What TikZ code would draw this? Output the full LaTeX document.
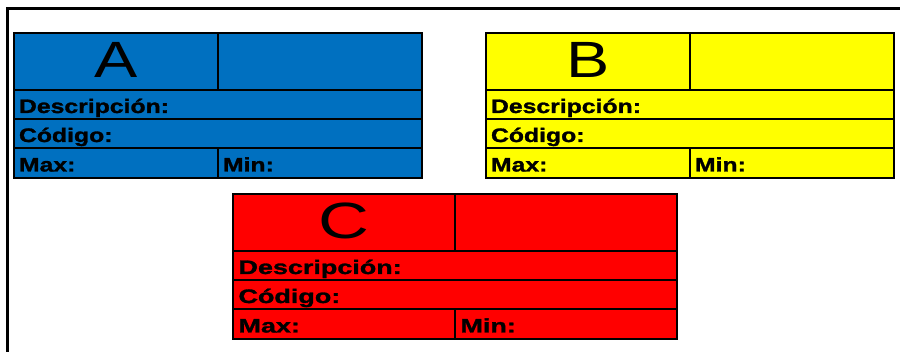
\documentclass[tikz,border=0pt]{standalone}
\usepackage{fontspec}
\setmainfont{Liberation Sans}
\newfontfamily\etiq[FakeStretch=1.27, BoldFeatures={FakeBold=1.5}]{Liberation Sans}
\usepackage{tikz}
\usetikzlibrary{positioning}

\definecolor{azul}{RGB}{0,112,192}
\definecolor{amarillo}{RGB}{255,255,0}
\definecolor{rojo}{RGB}{255,0,0}

\tikzset{
  celda/.style={draw=black, line width=2pt, anchor=north west, inner sep=0pt},
  cabecera/.style={celda, minimum width=204pt, minimum height=57pt,
    font=\etiq\fontsize{51}{51}\selectfont, text height=36.6pt, text depth=5pt},
  fila/.style={celda, minimum height=29pt, inner xsep=5pt, align=left,
    font=\etiq\bfseries\fontsize{19.5}{20}\selectfont, text height=17pt, text depth=0pt},
}

% una etiqueta: nombre, color, letra
\newcommand{\etiqueta}[3]{%
  \node[cabecera, fill=#2] (#1L) at (0,0) {#3};
  \node[cabecera, fill=#2] (#1R) at (204,0) {};
  \node[fila, fill=#2, text width=398pt] (#1D) at (0,57) {Descripción:};
  \node[fila, fill=#2, text width=398pt] (#1C) at (0,86) {Código:};
  \node[fila, fill=#2, text width=194pt, minimum height=30pt] (#1Max) at (0,115) {Max:};
  \node[fila, fill=#2, text width=194pt, minimum height=30pt] (#1Min) at (204,115) {Min:};
}

\begin{document}
\begin{tikzpicture}[x=1pt, y=-1pt]
  \useasboundingbox (0,0) rectangle (900,352);

  % marco
  \draw[line width=2.5pt] (7.5,352) -- (7.5,8.5) -- (900,8.5);

  % etiquetas
  \begin{scope}[shift={(13,32)}]
    \etiqueta{a}{azul}{A}
  \end{scope}
  \begin{scope}[shift={(485,32)}]
    \etiqueta{b}{amarillo}{B}
  \end{scope}
  \begin{scope}[shift={(232,193)}, xscale=1.088, transform shape]
    \etiqueta{c}{rojo}{C}
  \end{scope}
\end{tikzpicture}
\end{document}
